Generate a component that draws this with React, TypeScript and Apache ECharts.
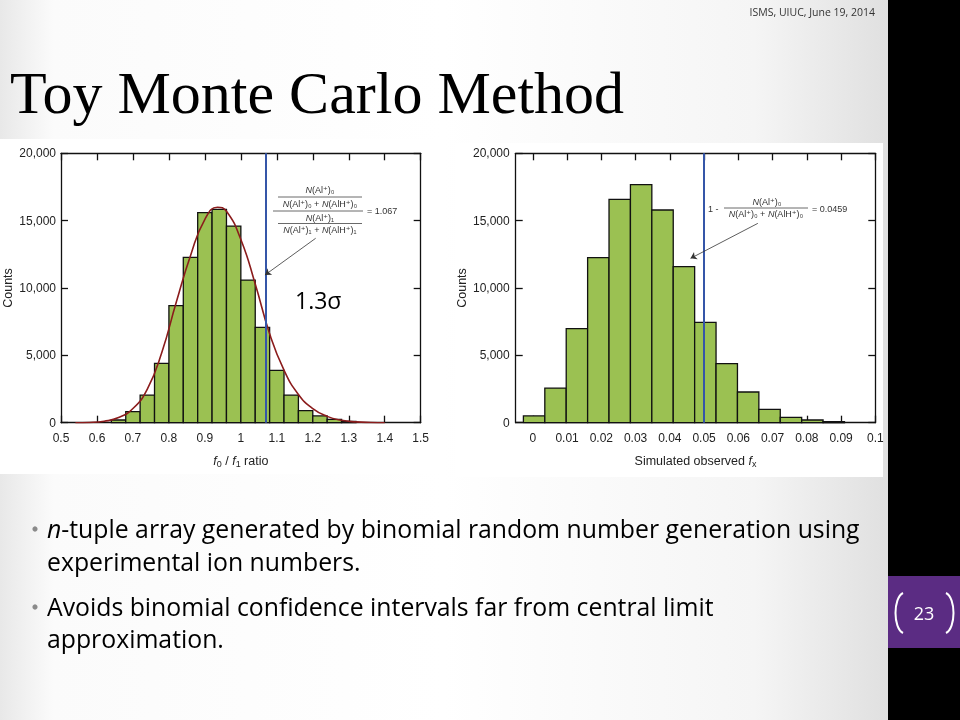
import React, { useEffect, useRef } from "react";
import * as echarts from "echarts";

// ---------- data ----------
const leftEdges = [0.64, 0.68, 0.72, 0.76, 0.80, 0.84, 0.88, 0.92, 0.96, 1.00, 1.04, 1.08, 1.12, 1.16, 1.20, 1.24, 1.28, 1.32];
const leftCounts = [200, 820, 2050, 4400, 8690, 12280, 15590, 15840, 14600, 10590, 7080, 3890, 2050, 890, 500, 250, 100];
const leftCurveX = [0.54, 0.58, 0.62, 0.66, 0.70, 0.74, 0.78, 0.82, 0.86, 0.90, 0.935, 0.96, 1.00, 1.04, 1.08, 1.12, 1.16, 1.20, 1.24, 1.28, 1.32, 1.36, 1.40];
const leftCurveY = [0, 20, 110, 380, 1050, 2500, 5200, 8900, 12400, 15100, 16000, 15700, 13600, 10300, 6600, 3900, 2100, 1050, 470, 180, 60, 15, 0];
const leftRatio = 1.067;
const leftArrowFrom = [1.208, 13690];
const leftArrowTo = [1.067, 10965];

const rightEdges = [-0.00275, 0.0035, 0.00975, 0.016, 0.02225, 0.0285, 0.03475, 0.041, 0.04725, 0.0535, 0.05975, 0.066, 0.07225, 0.0785, 0.08475, 0.091];
const rightCounts = [500, 2570, 6980, 12250, 16580, 17670, 15790, 11580, 7450, 4380, 2280, 990, 400, 200, 80];
const rightFx = 0.0459;
const rightArrowFrom = [0.0657, 14800];
const rightArrowTo = [0.04605, 12200];
const rightTicks = [0, 0.01, 0.02, 0.03, 0.04, 0.05, 0.06, 0.07, 0.08, 0.09, 0.1];

const yTicks = [0, 5000, 10000, 15000, 20000];

// ---------- styles ----------
const AX = "Liberation Sans, Arial, Helvetica, DejaVu Sans, sans-serif";
const BODY = "Open Sans, sans-serif";
const GREEN = "#9bc152";
const BSIZE = 24.8;

function histData(edges: number[], counts: number[]) {
  return counts.map((c, i) => [edges[i], edges[i + 1], c]);
}

function renderBar(params: any, api: any) {
  const p0 = api.coord([api.value(0), api.value(2)]);
  const p1 = api.coord([api.value(1), 0]);
  return {
    type: "rect",
    shape: { x: p0[0], y: p0[1], width: p1[0] - p0[0], height: p1[1] - p0[1] },
    style: { fill: GREEN, stroke: "#111", lineWidth: 1.3 },
  };
}

const axisLineStyle = { show: true, onZero: false, lineStyle: { color: "#111", width: 1.3 } };
const tickStyle = { show: true, inside: true, length: 7, lineStyle: { color: "#111", width: 1.3 } };
const labelStyle = { color: "#222", fontSize: 12, fontFamily: AX };

function yFmt(v: number) {
  return v.toLocaleString("en-US");
}

function txt(x: number, y: number, text: string, extra: any = {}) {
  return {
    type: "text",
    x,
    y,
    silent: true,
    style: Object.assign(
      { text, fill: "#000", fontSize: 12, fontFamily: BODY, textAlign: "left", textVerticalAlign: "middle" },
      extra
    ),
  };
}

const fRich = (size: number, fill: string) => ({
  i: { fontStyle: "italic", fontSize: size, fontFamily: AX, fill },
  n: { fontSize: size, fontFamily: AX, fill },
});

function formula(x: number, y: number, text: string, align = "center") {
  return txt(x, y, text, {
    fontSize: 9,
    fontFamily: AX,
    fill: "#333",
    textAlign: align,
    rich: fRich(9, "#333"),
  });
}

function hline(x1: number, x2: number, y: number) {
  return {
    type: "line",
    silent: true,
    shape: { x1, y1: y, x2, y2: y },
    style: { stroke: "#444", lineWidth: 0.8 },
  };
}

export default function App() {
  const ref = useRef<HTMLDivElement>(null);

  useEffect(() => {
    document.body.style.margin = "0";
    const chart = echarts.init(ref.current!, null, { renderer: "svg" });

    const graphic: any[] = [
      {
        type: "rect",
        z: -10,
        silent: true,
        shape: { x: 0, y: 0, width: 888, height: 720 },
        style: {
          fill: {
            type: "linear", x: 0, y: 0, x2: 1, y2: 0,
            colorStops: [
              { offset: 0, color: "#e8e8e8" },
              { offset: 0.06, color: "#fbfbfb" },
              { offset: 0.5, color: "#ffffff" },
              { offset: 0.85, color: "#f5f5f5" },
              { offset: 1, color: "#e0e0e0" },
            ],
          },
        },
      },
      { type: "rect", z: -10, silent: true, shape: { x: 888, y: 0, width: 72, height: 720 }, style: { fill: "#000" } },
      { type: "rect", z: -9, silent: true, shape: { x: 0, y: 139, width: 442, height: 335 }, style: { fill: "#fff" } },
      { type: "rect", z: -9, silent: true, shape: { x: 455, y: 143, width: 428, height: 334 }, style: { fill: "#fff" } },
      // page number
      { type: "rect", z: -8, silent: true, shape: { x: 888, y: 576, width: 72, height: 72 }, style: { fill: "#5b2c83" } },
      {
        type: "bezierCurve", silent: true,
        shape: { x1: 903, y1: 593, cpx1: 893, cpy1: 598, cpx2: 893, cpy2: 628, x2: 903, y2: 633 },
        style: { stroke: "#fff", lineWidth: 2, fill: "none" },
      },
      {
        type: "bezierCurve", silent: true,
        shape: { x1: 946, y1: 593, cpx1: 956, cpy1: 598, cpx2: 956, cpy2: 628, x2: 946, y2: 633 },
        style: { stroke: "#fff", lineWidth: 2, fill: "none" },
      },
      txt(924, 613, "23", { fill: "#fff", fontSize: 18, fontFamily: BODY, textAlign: "center" }),
      // header
      txt(875, 12, "ISMS, UIUC, June 19, 2014", { fill: "#333", fontSize: 10.5, fontFamily: BODY, textAlign: "right" }),
      txt(10, 93, "Toy Monte Carlo Method", { fontSize: 60, fontFamily: "Liberation Serif, DejaVu Serif, serif" }),
      // bullets
      { type: "circle", silent: true, shape: { cx: 35, cy: 529, r: 2.6 }, style: { fill: "#8a8a8a" } },
      txt(47, 528, "{it|n}-tuple array generated by binomial random number generation using", {
        fontSize: BSIZE,
        rich: { it: { fontStyle: "italic", fontSize: BSIZE, fontFamily: BODY, fill: "#000" } },
      }),
      txt(47, 561, "experimental ion numbers.", { fontSize: BSIZE }),
      { type: "circle", silent: true, shape: { cx: 35, cy: 607, r: 2.6 }, style: { fill: "#8a8a8a" } },
      txt(47, 606, "Avoids binomial confidence intervals far from central limit", { fontSize: BSIZE }),
      txt(47, 638, "approximation.", { fontSize: BSIZE }),
      // sigma label
      txt(295, 300, "1.3σ", { fontSize: 23, fontFamily: BODY }),
      // left formula
      formula(320, 190, "{i|N}{n|(Al⁺)₀}"),
      hline(278, 362, 197),
      formula(320, 203.5, "{i|N}{n|(Al⁺)₀ + }{i|N}{n|(AlH⁺)₀}"),
      hline(273, 363, 211),
      formula(367, 211, "= 1.067", "left"),
      formula(320, 217.5, "{i|N}{n|(Al⁺)₁}"),
      hline(278, 362, 223.5),
      formula(320, 230, "{i|N}{n|(Al⁺)₁ + }{i|N}{n|(AlH⁺)₁}"),
      // right formula
      formula(708, 209, "1 -", "left"),
      formula(767, 201.5, "{i|N}{n|(Al⁺)₀}"),
      hline(724, 808, 208),
      formula(766, 214, "{i|N}{n|(Al⁺)₀ + }{i|N}{n|(AlH⁺)₀}"),
      formula(812, 209, "= 0.0459", "left"),
    ];

    const xBase = (gridIndex: number, pos: string, extra: any) =>
      Object.assign(
        {
          type: "value",
          gridIndex,
          position: pos,
          axisLine: axisLineStyle,
          axisTick: tickStyle,
          splitLine: { show: false },
          axisLabel: Object.assign({ show: pos === "bottom", margin: 9 }, labelStyle),
        },
        extra
      );

    const yBase = (gridIndex: number, pos: string, margin: number, showName: boolean) => ({
      type: "value",
      gridIndex,
      position: pos,
      min: yTicks[0],
      max: yTicks[yTicks.length - 1],
      interval: 5000,
      axisLine: axisLineStyle,
      axisTick: tickStyle,
      splitLine: { show: false },
      axisLabel: Object.assign({ show: pos === "left", margin, formatter: yFmt }, labelStyle),
      name: showName ? "Counts" : "",
      nameLocation: "middle",
      nameGap: 47,
      nameRotate: 90,
      nameTextStyle: { color: "#222", fontSize: 12.5, fontFamily: AX },
    });

    const xNameStyle = {
      color: "#222",
      fontSize: 12.5,
      fontFamily: AX,
      rich: {
        i: { fontStyle: "italic", fontSize: 12.5, fontFamily: AX, fill: "#222", color: "#222" },
        s: { fontSize: 9, fontFamily: AX, color: "#222", verticalAlign: "bottom", padding: [6, 0, 0, 0] },
        n: { fontSize: 12.5, fontFamily: AX, color: "#222" },
      },
    };

    const option: any = {
      animation: false,
      backgroundColor: "transparent",
      graphic,
      grid: [
        { left: 60.3, top: 153.3, width: 360.4, height: 269.4 },
        { left: 515.7, top: 153.3, width: 359.6, height: 269.4 },
      ],
      xAxis: [
        xBase(0, "bottom", {
          min: 0.5, max: 1.5, interval: 0.1,
          name: "{i|f}{s|0}{n| / }{i|f}{s|1}{n| ratio}",
          nameLocation: "middle",
          nameGap: 31,
          nameTextStyle: xNameStyle,
        }),
        xBase(0, "top", { min: 0.5, max: 1.5, interval: 0.1 }),
        xBase(1, "bottom", {
          min: -0.005, max: 0.1,
          axisTick: Object.assign({}, tickStyle, { customValues: rightTicks }),
          axisLabel: Object.assign({ show: true, margin: 9, customValues: rightTicks }, labelStyle),
          name: "{n|Simulated observed }{i|f}{s|x}",
          nameLocation: "middle",
          nameGap: 31,
          nameTextStyle: xNameStyle,
        }),
        xBase(1, "top", {
          min: -0.005, max: 0.1,
          axisTick: Object.assign({}, tickStyle, { customValues: rightTicks }),
        }),
      ],
      yAxis: [yBase(0, "left", 5, true), yBase(0, "right", 5, false), yBase(1, "left", 6, true), yBase(1, "right", 6, false)],
      series: [
        {
          type: "custom",
          xAxisIndex: 0,
          yAxisIndex: 0,
          z: 2,
          renderItem: renderBar,
          encode: { x: [0, 1], y: 2 },
          data: histData(leftEdges, leftCounts),
          silent: true,
        },
        {
          type: "line",
          xAxisIndex: 0,
          yAxisIndex: 0,
          z: 3,
          smooth: true,
          showSymbol: false,
          lineStyle: { color: "#8b1c1c", width: 1.6 },
          data: leftCurveX.map((x, i) => [x, leftCurveY[i]]),
          silent: true,
        },
        {
          type: "line",
          xAxisIndex: 0,
          yAxisIndex: 0,
          z: 4,
          data: [],
          markLine: {
            silent: true,
            animation: false,
            symbol: ["none", "none"],
            label: { show: false },
            data: [
              { xAxis: leftRatio, lineStyle: { color: "#3556a8", width: 2, type: "solid" } },
              [
                { coord: leftArrowFrom, symbol: "none", lineStyle: { color: "#333", width: 0.8, type: "solid" } },
                { coord: leftArrowTo, symbol: "arrow", symbolSize: 6 },
              ],
            ],
          },
        },
        {
          type: "custom",
          xAxisIndex: 2,
          yAxisIndex: 2,
          z: 2,
          renderItem: renderBar,
          encode: { x: [0, 1], y: 2 },
          data: histData(rightEdges, rightCounts),
          silent: true,
        },
        {
          type: "line",
          xAxisIndex: 2,
          yAxisIndex: 2,
          z: 4,
          data: [],
          markLine: {
            silent: true,
            animation: false,
            symbol: ["none", "none"],
            label: { show: false },
            data: [
              { xAxis: rightFx, lineStyle: { color: "#3556a8", width: 2, type: "solid" } },
              [
                { coord: rightArrowFrom, symbol: "none", lineStyle: { color: "#333", width: 0.8, type: "solid" } },
                { coord: rightArrowTo, symbol: "arrow", symbolSize: 6 },
              ],
            ],
          },
        },
      ],
    };

    chart.setOption(option);
    return () => chart.dispose();
  }, []);

  return <div ref={ref} style={{ position: "fixed", left: 0, top: 0, width: 960, height: 720 }} />;
}
